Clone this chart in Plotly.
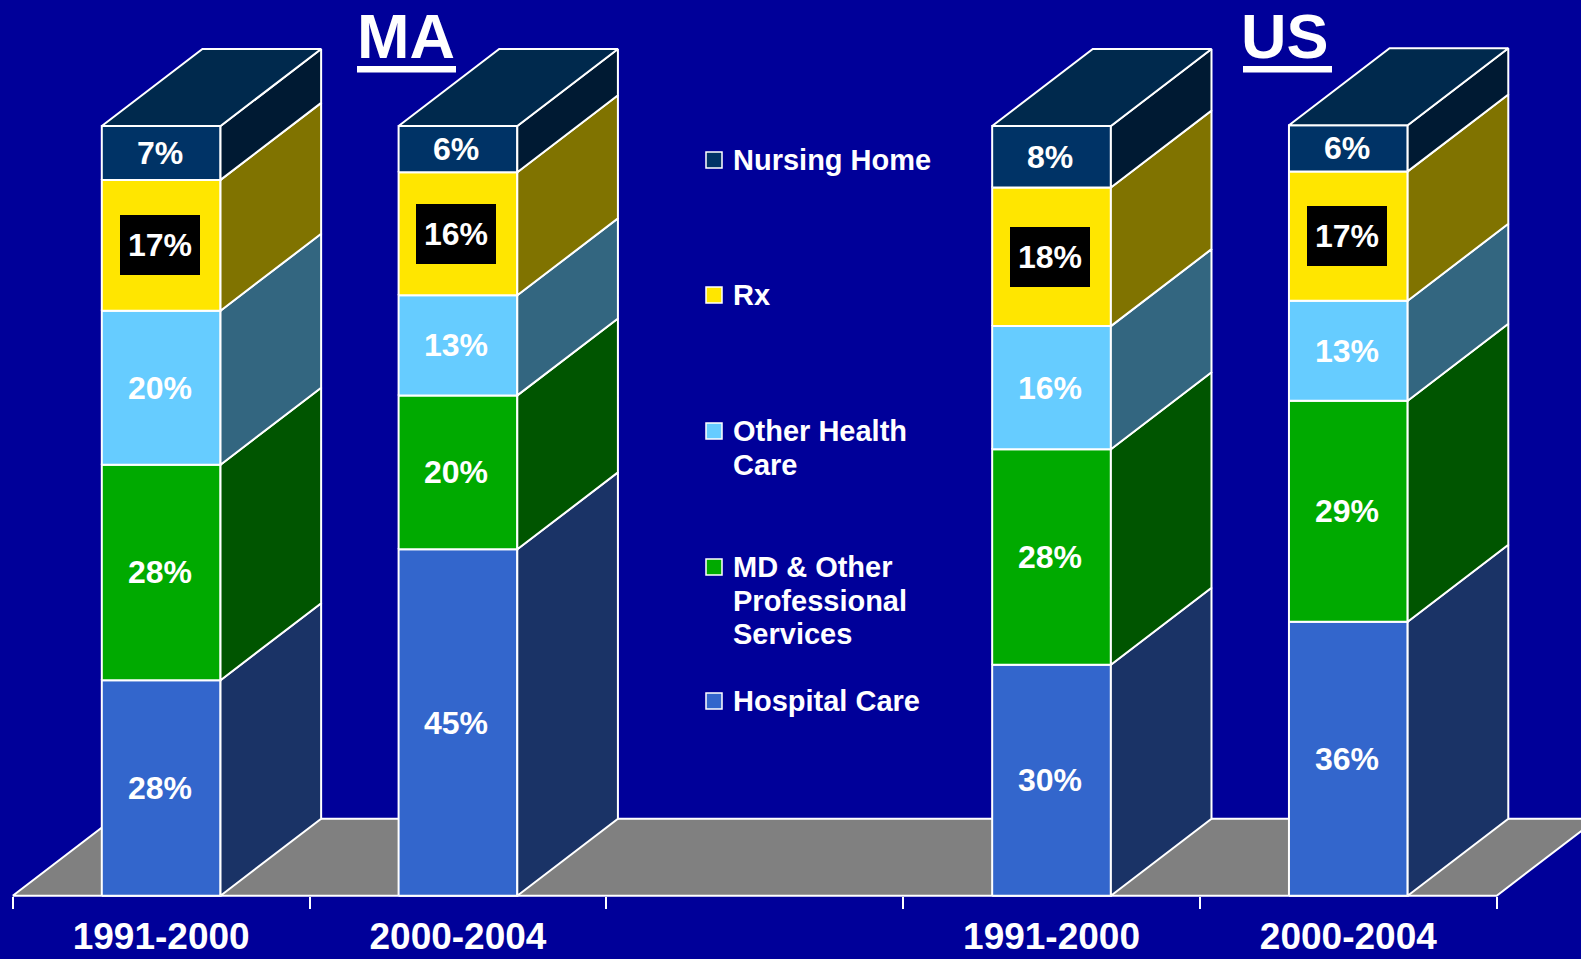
import plotly.graph_objects as go

# ---------------- data ----------------
bar_positions = [0, 1, 3, 4]
bar_labels = ["1991-2000", "2000-2004", "1991-2000", "2000-2004"]
group_titles = ["MA", "US"]

series_names = ["Hospital Care", "MD & Other Professional Services",
                "Other Health Care", "Rx", "Nursing Home"]
hospital = [28, 45, 30, 35.6]
md_prof = [28, 20, 28, 28.7]
other_hc = [20, 13, 16, 13.0]
rx = [17, 16, 18, 16.8]
nursing = [7, 6, 8, 6.0]
series_values = [hospital, md_prof, other_hc, rx, nursing]

# ---------------- style ----------------
BG = "#000099"
front_colors = ["#3366CC", "#00AA00", "#66CCFF", "#FFE600", "#003366"]
side_colors = ["#1A3366", "#005500", "#336680", "#807300", "#001A33"]
top_color = "#00294D"
floor_color = "#808080"
FONT = "Liberation Sans, Arial, sans-serif"

W, H = 1581, 959
BAR_W = 0.4
DX = 0.339        # depth offset in category units
DY = 10.0         # depth offset in percent units
X_RANGE = [-0.543, 4.784]
Y_RANGE = [-8.224, 116.37]
EDGE = dict(color="white", width=2)


def px(x):
    return x / W


def py(y):
    return 1 - y / H


fig = go.Figure()


def add_poly(xs, ys, color):
    fig.add_trace(go.Scatter(x=xs, y=ys, mode="lines", fill="toself",
                             fillcolor=color, line=EDGE, hoverinfo="skip",
                             showlegend=False))


# floor
x_lo, x_hi = -0.5, 4.5
add_poly([x_lo, x_hi, x_hi + DX, x_lo + DX, x_lo],
         [0, 0, DY, DY, 0], floor_color)

# bars
annotations = []
for bi, xc in enumerate(bar_positions):
    base = 0.0
    xl, xr = xc - BAR_W / 2, xc + BAR_W / 2
    for si, vals in enumerate(series_values):
        v = vals[bi]
        y0, y1 = base, base + v
        add_poly([xl, xr, xr, xl, xl], [y0, y0, y1, y1, y0], front_colors[si])
        add_poly([xr, xr + DX, xr + DX, xr, xr],
                 [y0, y0 + DY, y1 + DY, y1, y0], side_colors[si])
        label = f"{round(v)}%"
        ann = dict(x=xc - 0.005, y=(y0 + y1) / 2, xref="x", yref="y", text=label,
                   showarrow=False, xanchor="center", yanchor="middle",
                   font=dict(family=FONT, size=32, color="white", weight="bold"))
        if series_names[si] == "Rx":
            ann.update(bgcolor="black", width=78, height=58, borderpad=0,
                       bordercolor="black", borderwidth=1)
        annotations.append(ann)
        base = y1
    # top face
    add_poly([xl, xr, xr + DX, xl + DX, xl],
             [base, base, base + DY, base + DY, base], top_color)

# titles
shapes = []
title_centers = [406, 1285]
for t, cx in zip(group_titles, title_centers):
    annotations.append(dict(x=px(cx), y=py(36), xref="paper", yref="paper",
                            text=t, showarrow=False, xanchor="center",
                            yanchor="middle",
                            font=dict(family=FONT, size=63, color="white",
                                      weight="bold")))
underlines = [(357, 456), (1243, 1332)]
for a, b in underlines:
    shapes.append(dict(type="rect", xref="paper", yref="paper",
                       x0=px(a), x1=px(b), y0=py(66), y1=py(72.5),
                       fillcolor="white", line=dict(width=0)))

# legend (drawn manually to keep the original uneven spacing)
legend_rows = [
    (4, ["Nursing Home"], 160),
    (3, ["Rx"], 295),
    (2, ["Other Health", "Care"], 431),
    (1, ["MD & Other", "Professional", "Services"], 567),
    (0, ["Hospital Care"], 701),
]
LINE_GAP = 33.7
for si, lines, ycen in legend_rows:
    shapes.append(dict(type="rect", xref="paper", yref="paper",
                       x0=px(706), x1=px(722), y0=py(ycen - 8), y1=py(ycen + 8),
                       fillcolor=front_colors[si],
                       line=dict(color="white", width=1.5)))
    for li, txt in enumerate(lines):
        annotations.append(dict(x=px(731), y=py(ycen + li * LINE_GAP),
                                xref="paper", yref="paper", text=txt,
                                showarrow=False, xanchor="left",
                                yanchor="middle",
                                font=dict(family=FONT, size=29, color="white",
                                          weight="bold")))

fig.update_layout(
    width=W, height=H,
    margin=dict(l=0, r=0, t=0, b=0, autoexpand=False),
    paper_bgcolor=BG, plot_bgcolor=BG,
    showlegend=False,
    annotations=annotations,
    shapes=shapes,
    xaxis=dict(range=X_RANGE, showgrid=False, zeroline=False, showline=False,
               automargin=False,
               tickmode="array", tickvals=bar_positions, ticktext=bar_labels,
               ticks="", anchor="free", position=(H - 895.7) / H,
               tickfont=dict(family=FONT, size=37, color="white", weight="bold"),
               ticklabelstandoff=15,
               minor=dict(ticks="outside", tick0=-0.5, dtick=1, ticklen=12,
                          tickwidth=2, tickcolor="white", showgrid=False),
               fixedrange=True),
    yaxis=dict(range=Y_RANGE, visible=False, showgrid=False, zeroline=False,
               automargin=False, fixedrange=True),
)

fig.write_html("out.html", config={"displayModeBar": False},
               post_script="document.body.style.margin='0px';"
                           "document.body.style.overflow='hidden';"
                           "document.documentElement.style.overflow='hidden';")
